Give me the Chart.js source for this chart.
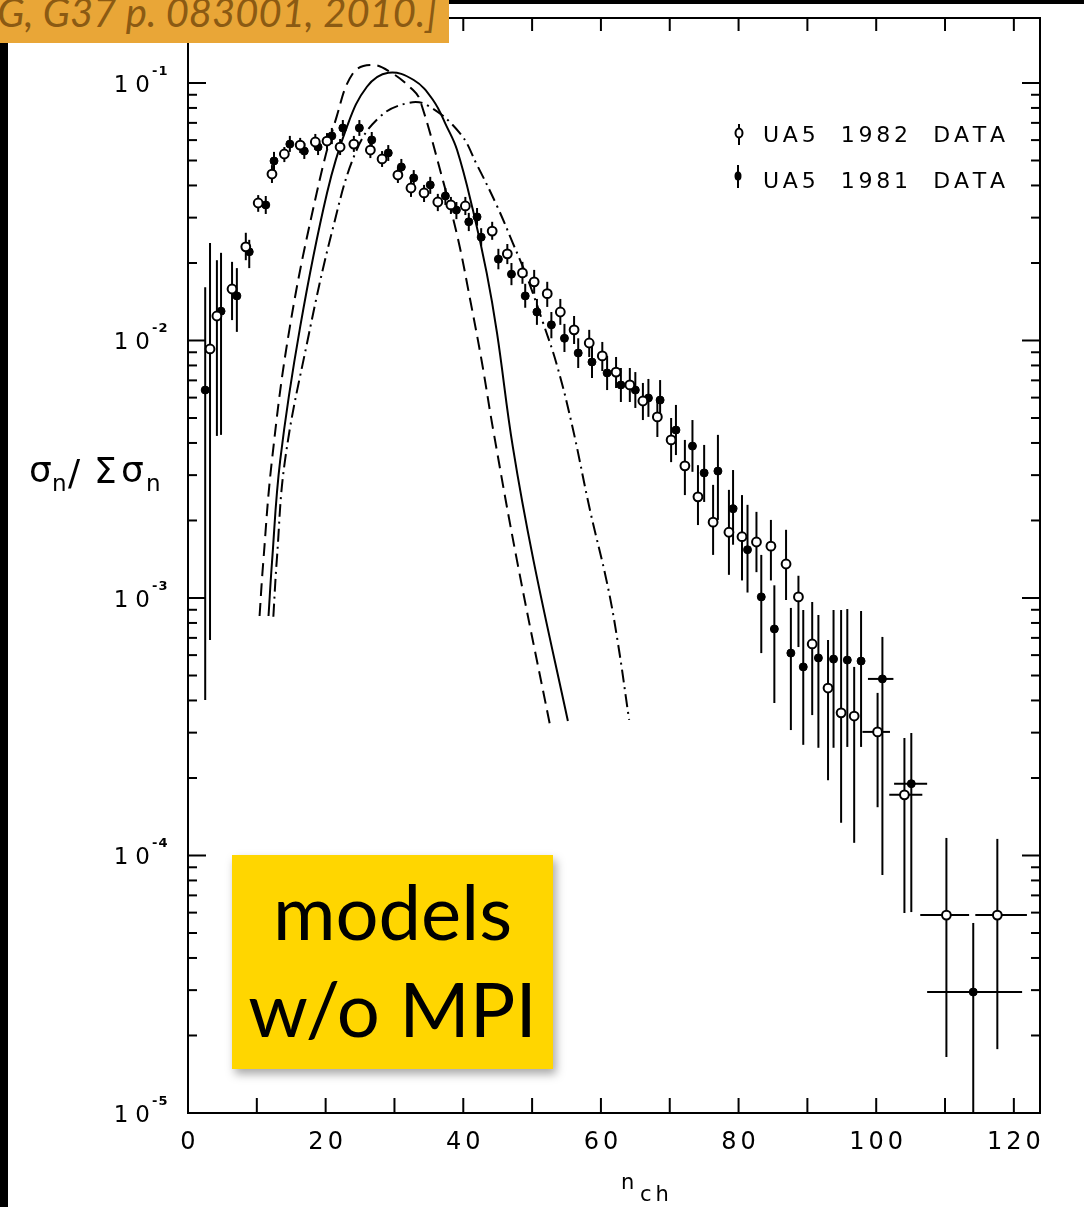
<!DOCTYPE html>
<html>
<head>
<meta charset="utf-8">
<script src="https://cdn.jsdelivr.net/npm/chart.js@4.4.0/dist/chart.umd.min.js"></script>
<style>
  html, body { margin: 0; padding: 0; background: #fff; }
  #wrap { position: relative; width: 1084px; height: 1207px; overflow: hidden; background: #fff; }
  #chart { position: absolute; left: 0; top: 0; }
  .ref { position: absolute; left: 0; top: 0; width: 449px; height: 43px; background: #E9A637; overflow: hidden; }
  .ref span { position: absolute; right: 12px; top: -12px; font: italic 40px Lato, sans-serif; line-height: normal; color: #8B5A13; white-space: nowrap; }
  .topbar { position: absolute; left: 449px; top: 0; width: 635px; height: 4px; background: #000; }
  .leftbar { position: absolute; left: 0; top: 43px; width: 8px; height: 1164px; background: #000; }
  .note { position: absolute; left: 232px; top: 855px; width: 321px; height: 214px; box-sizing: border-box;
          padding-top: 7px; background: #FFD600; box-shadow: 3px 5px 9px rgba(0,0,0,0.35);
          font: 76px Lato, sans-serif; line-height: 97px; text-align: center; color: #000; }
</style>
</head>
<body>
<div id="wrap">
  <canvas id="chart" width="1084" height="1207"></canvas>
  <div class="topbar"></div>
  <div class="leftbar"></div>
  <div class="ref"><span>G, G37 p. 083001, 2010.]</span></div>
  <div class="note">models<br>w/o MPI</div>
</div>
<script>
// UA5 1982 data (open circles)
const openN   = [3.2, 4.2, 6.4, 8.4, 10.2, 12.2, 14.0, 16.3, 18.5, 20.2, 22.1, 24.1, 26.5, 28.2, 30.5, 32.4, 34.3, 36.3, 38.2, 40.3, 44.2, 46.4, 48.6, 50.3, 52.2, 54.1, 56.1, 58.3, 60.2, 62.2, 64.2, 66.1, 68.2, 70.2, 72.2, 74.1, 76.3, 78.6, 80.5, 82.6, 84.7, 86.9, 88.7, 90.7, 93.0, 94.9, 96.8];
const openVal = [9.27e-3, 1.245e-2, 1.585e-2, 2.31e-2, 3.42e-2, 4.43e-2, 5.30e-2, 5.74e-2, 5.90e-2, 5.95e-2, 5.64e-2, 5.79e-2, 5.49e-2, 5.07e-2, 4.39e-2, 3.91e-2, 3.74e-2, 3.45e-2, 3.36e-2, 3.33e-2, 2.66e-2, 2.17e-2, 1.83e-2, 1.69e-2, 1.52e-2, 1.29e-2, 1.10e-2, 9.78e-3, 8.71e-3, 7.54e-3, 6.72e-3, 5.82e-3, 5.05e-3, 4.11e-3, 3.26e-3, 2.47e-3, 1.97e-3, 1.80e-3, 1.73e-3, 1.65e-3, 1.59e-3, 1.355e-3, 1.01e-3, 6.63e-4, 4.47e-4, 3.58e-4, 3.48e-4];
const openHi  = [2.39e-2, 2.05e-2, 2.02e-2, 2.62e-2, 3.67e-2, 4.80e-2, 5.64e-2, 6.12e-2, 6.34e-2, 6.39e-2, 6.06e-2, 6.23e-2, 5.90e-2, 5.44e-2, 4.72e-2, 4.20e-2, 4.02e-2, 3.71e-2, 3.61e-2, 3.61e-2, 2.89e-2, 2.37e-2, 2.02e-2, 1.88e-2, 1.69e-2, 1.45e-2, 1.245e-2, 1.10e-2, 9.87e-3, 8.63e-3, 7.82e-3, 6.84e-3, 5.98e-3, 5.00e-3, 4.11e-3, 3.28e-3, 2.75e-3, 2.63e-3, 2.51e-3, 2.16e-3, 2.01e-3, 1.84e-3, 1.22e-3, 9.65e-4, 6.87e-4, 8.98e-4, 5.40e-4];
const openLo  = [6.87e-4, 4.26e-3, 1.20e-2, 2.05e-2, 3.16e-2, 4.09e-2, 4.93e-2, 5.35e-2, 5.49e-2, 5.54e-2, 5.25e-2, 5.40e-2, 5.11e-2, 4.72e-2, 4.09e-2, 3.61e-2, 3.45e-2, 3.18e-2, 3.10e-2, 3.07e-2, 2.46e-2, 1.98e-2, 1.66e-2, 1.52e-2, 1.35e-2, 1.15e-2, 9.69e-3, 8.63e-3, 7.61e-3, 6.54e-3, 5.77e-3, 4.91e-3, 4.22e-3, 3.37e-3, 2.51e-3, 1.92e-3, 1.47e-3, 1.23e-3, 1.17e-3, 1.26e-3, 1.17e-3, 9.82e-4, 6.45e-4, 3.51e-4, 1.96e-4, 1.34e-4, 1.12e-4];
// 1982 wide bins at high multiplicity
const openWideN    = [100.2, 104.1, 110.2, 117.6];
const openWideVal  = [3.02e-4, 1.72e-4, 5.87e-5, 5.87e-5];
const openWideHi   = [4.28e-4, 2.86e-4, 1.17e-4, 1.16e-4];
const openWideLo   = [1.54e-4, 5.98e-5, 1.65e-5, 1.77e-5];
const openWideFrom = [98.0, 101.9, 106.4, 114.4];
const openWideTo   = [102.0, 106.7, 113.5, 121.9];

// UA5 1981 data (filled circles)
const filledN   = [2.5, 4.8, 7.1, 8.9, 11.3, 12.5, 14.8, 16.9, 18.9, 20.9, 22.5, 24.9, 26.7, 29.1, 31.0, 32.8, 35.2, 37.4, 39.0, 40.8, 42.0, 42.6, 45.1, 47.0, 49.0, 50.7, 52.8, 54.7, 56.7, 58.7, 60.9, 62.9, 65.0, 66.9, 68.6, 70.9, 73.3, 75.0, 77.0, 79.2, 81.3, 83.3, 85.2, 87.6, 89.4, 91.6, 93.8, 95.8, 97.8];
const filledVal = [6.42e-3, 1.30e-2, 1.49e-2, 2.21e-2, 3.36e-2, 4.98e-2, 5.79e-2, 5.44e-2, 5.64e-2, 6.23e-2, 6.69e-2, 6.69e-2, 6.01e-2, 5.35e-2, 4.72e-2, 4.28e-2, 4.02e-2, 3.64e-2, 3.21e-2, 2.89e-2, 3.02e-2, 2.52e-2, 2.07e-2, 1.81e-2, 1.49e-2, 1.29e-2, 1.15e-2, 1.02e-2, 8.94e-3, 8.25e-3, 7.48e-3, 6.72e-3, 6.42e-3, 5.98e-3, 5.87e-3, 4.49e-3, 3.89e-3, 3.06e-3, 3.11e-3, 2.22e-3, 1.54e-3, 1.01e-3, 7.58e-4, 6.11e-4, 5.40e-4, 5.85e-4, 5.79e-4, 5.74e-4, 5.69e-4];
const filledHi  = [1.61e-2, 2.19e-2, 1.91e-2, 2.46e-2, 3.64e-2, 5.40e-2, 6.23e-2, 5.85e-2, 6.06e-2, 6.69e-2, 7.18e-2, 7.18e-2, 6.45e-2, 5.74e-2, 5.07e-2, 4.59e-2, 4.32e-2, 3.91e-2, 3.45e-2, 3.13e-2, 3.27e-2, 2.73e-2, 2.27e-2, 2.00e-2, 1.66e-2, 1.45e-2, 1.29e-2, 1.16e-2, 1.02e-2, 9.52e-3, 8.71e-3, 7.82e-3, 7.54e-3, 7.09e-3, 7.02e-3, 5.62e-3, 4.91e-3, 3.93e-3, 4.30e-3, 3.14e-3, 2.30e-3, 1.47e-3, 1.12e-3, 9.15e-4, 8.98e-4, 8.59e-4, 8.98e-4, 9.06e-4, 8.90e-4];
const filledLo  = [4.02e-4, 4.30e-3, 1.08e-2, 1.91e-2, 3.10e-2, 4.59e-2, 5.40e-2, 5.07e-2, 5.25e-2, 5.79e-2, 6.23e-2, 6.23e-2, 5.59e-2, 4.98e-2, 4.39e-2, 3.95e-2, 3.71e-2, 3.36e-2, 2.96e-2, 2.66e-2, 2.79e-2, 2.33e-2, 1.89e-2, 1.64e-2, 1.34e-2, 1.15e-2, 1.02e-2, 9.02e-3, 7.82e-3, 7.15e-3, 6.42e-3, 5.77e-3, 5.47e-3, 5.05e-3, 4.91e-3, 3.59e-3, 3.09e-3, 2.36e-3, 2.01e-3, 1.61e-3, 1.05e-3, 6.11e-4, 3.91e-4, 3.07e-4, 2.69e-4, 2.62e-4, 2.62e-4, 2.64e-4, 2.64e-4];
const filledWideN    = [100.9, 105.1, 114.1];
const filledWideVal  = [4.85e-4, 1.90e-4, 2.95e-5];
const filledWideHi   = [7.06e-4, 2.99e-4, 5.47e-5];
const filledWideLo   = [8.40e-5, 6.03e-5, 8e-6];
const filledWideFrom = [98.8, 102.6, 107.4];
const filledWideTo   = [102.5, 107.4, 121.2];

// model curves (no MPI)
const dashedN   = [10.4, 10.9, 12.2, 14.8, 18.7, 21.6, 24.0, 26.7, 29.4, 32.7, 33.7, 37.1, 39.2, 41.0, 42.7, 44.3, 47.8, 52.6];
const dashedVal = [8.51e-4, 1.34e-3, 3.43e-3, 1.13e-2, 3.74e-2, 7.40e-2, 0.1094, 0.1175, 0.1103, 9.39e-2, 8.59e-2, 4.13e-2, 2.50e-2, 1.44e-2, 8.25e-3, 4.57e-3, 1.40e-3, 3.21e-4];
const solidN    = [11.7, 12.2, 13.4, 16.3, 20.2, 23.1, 26.0, 29.1, 32.8, 35.6, 37.6, 39.1, 41.4, 43.4, 44.9, 47.2, 50.2, 55.2];
const solidVal  = [8.51e-4, 1.37e-3, 3.43e-3, 1.13e-2, 3.74e-2, 6.77e-2, 9.67e-2, 0.1096, 0.1027, 8.59e-2, 6.77e-2, 5.49e-2, 3.21e-2, 1.83e-2, 1.07e-2, 3.86e-3, 1.40e-3, 3.33e-4];
const dashDotN   = [12.4, 12.9, 14.1, 17.3, 21.1, 24.5, 27.9, 31.8, 34.7, 39.5, 42.0, 44.9, 47.2, 49.3, 51.6, 53.6, 55.8, 58.4, 60.9, 62.4, 64.1];
const dashDotVal = [8.46e-4, 1.40e-3, 3.43e-3, 9.78e-3, 2.76e-2, 5.49e-2, 7.40e-2, 8.34e-2, 8.21e-2, 6.39e-2, 4.80e-2, 3.33e-2, 2.39e-2, 1.75e-2, 1.17e-2, 8.03e-3, 4.70e-3, 2.20e-3, 1.14e-3, 6.87e-4, 3.36e-4];

// axes
const xMin = 0, xMax = 123.8;
const yMin = 1e-5, yMax = 0.1788;
const xTickValues = [0, 10, 20, 30, 40, 50, 60, 70, 80, 90, 100, 110, 120];
const xLabelValues = [0, 20, 40, 60, 80, 100, 120];
const yDecades = [-5, -4, -3, -2, -1];
const legendLabels = ['UA5  1982  DATA', 'UA5  1981  DATA'];

const pts = (ns, vs) => ns.map((n, i) => ({ x: n, y: vs[i] }));

// draws text glyph by glyph with extra spacing
function spaced(ctx, str, x, yb, spacing, align) {
  const ws = [...str].map(c => ctx.measureText(c).width);
  const total = ws.reduce((a, b) => a + b, 0) + spacing * (ws.length - 1);
  let cx = align === 'center' ? x - total / 2 : align === 'right' ? x - total : x;
  ctx.textAlign = 'left';
  [...str].forEach((c, i) => { ctx.fillText(c, cx, yb); cx += ws[i] + spacing; });
  return total;
}
function fitSpacing(ctx, str, width) {
  const chars = [...str];
  const w = chars.reduce((a, c) => a + ctx.measureText(c).width, 0);
  return (width - w) / (chars.length - 1);
}

const errorBars = {
  id: 'errorBars',
  beforeDatasetsDraw(chart) {
    const { ctx, chartArea: a, scales: { x, y } } = chart;
    ctx.save();
    ctx.beginPath();
    ctx.rect(a.left, a.top, a.right - a.left, a.bottom - a.top);
    ctx.clip();
    ctx.strokeStyle = '#000';
    ctx.lineWidth = 2;
    const vbars = (ns, lo, hi) => ns.forEach((n, i) => {
      const px = x.getPixelForValue(n);
      ctx.beginPath();
      ctx.moveTo(px, y.getPixelForValue(hi[i]));
      ctx.lineTo(px, y.getPixelForValue(lo[i]));
      ctx.stroke();
    });
    const hbars = (ns, vs, from, to) => ns.forEach((n, i) => {
      const py = y.getPixelForValue(vs[i]);
      ctx.beginPath();
      ctx.moveTo(x.getPixelForValue(from[i]), py);
      ctx.lineTo(x.getPixelForValue(to[i]), py);
      ctx.stroke();
    });
    vbars(openN, openLo, openHi);
    vbars(filledN, filledLo, filledHi);
    vbars(openWideN, openWideLo, openWideHi);
    vbars(filledWideN, filledWideLo, filledWideHi);
    hbars(openWideN, openWideVal, openWideFrom, openWideTo);
    hbars(filledWideN, filledWideVal, filledWideFrom, filledWideTo);
    ctx.restore();
  }
};

const frame = {
  id: 'frame',
  afterDraw(chart) {
    const { ctx, chartArea: a, scales: { x, y } } = chart;
    ctx.save();
    ctx.strokeStyle = '#000';
    ctx.fillStyle = '#000';
    ctx.lineWidth = 2;
    ctx.strokeRect(a.left, a.top, a.right - a.left, a.bottom - a.top);
    const seg = (x1, y1, x2, y2) => { ctx.beginPath(); ctx.moveTo(x1, y1); ctx.lineTo(x2, y2); ctx.stroke(); };

    xTickValues.forEach(v => {
      const px = x.getPixelForValue(v);
      seg(px, a.bottom, px, a.bottom - 15);
      seg(px, a.top, px, a.top + 13);
    });
    yDecades.forEach(e => {
      for (let m = 1; m <= 9; m++) {
        const v = m * Math.pow(10, e);
        if (v > yMax * 1.0001) continue;
        const py = y.getPixelForValue(v);
        const len = m === 1 ? 18 : 9;
        seg(a.left, py, a.left + len, py);
        seg(a.right, py, a.right - len, py);
      }
    });

    // x tick labels
    ctx.font = '24px "DejaVu Sans"';
    xLabelValues.forEach(v => spaced(ctx, String(v), x.getPixelForValue(v), a.bottom + 36, 4, 'center'));

    // y tick labels 10^e
    yDecades.forEach(e => {
      const py = y.getPixelForValue(Math.pow(10, e));
      ctx.font = '23px "DejaVu Sans"';
      spaced(ctx, '10', 150, py + 9, 7, 'right');
      ctx.font = 'bold 13px "DejaVu Sans"';
      spaced(ctx, '-' + Math.abs(e), 152, py - 8, 1, 'left');
    });

    // axis titles
    ctx.textAlign = 'left';
    ctx.font = '36px "DejaVu Sans"';
    ctx.fillText('σ', 29, 482);
    ctx.fillText('/', 68, 485);
    ctx.fillText('Σ', 94, 483);
    ctx.fillText('σ', 121, 482);
    ctx.font = '23px "DejaVu Sans"';
    ctx.fillText('n', 52, 491);
    ctx.fillText('n', 146, 491);

    ctx.font = '21px "DejaVu Sans"';
    ctx.fillText('n', 621, 1189);
    spaced(ctx, 'ch', 640, 1201, 4, 'left');

    // legend
    const lx = 739;
    ctx.lineWidth = 2;
    seg(lx, 124, lx, 145);
    ctx.beginPath(); ctx.ellipse(lx, 133, 3.5, 4.5, 0, 0, Math.PI * 2);
    ctx.fillStyle = '#fff'; ctx.fill(); ctx.stroke();
    ctx.fillStyle = '#000';
    seg(lx - 1, 165, lx - 1, 188);
    ctx.beginPath(); ctx.ellipse(lx - 1, 176, 3.5, 4.5, 0, 0, Math.PI * 2); ctx.fill();
    ctx.font = '22px "DejaVu Sans"';
    legendLabels.forEach((t, i) => {
      const sp = fitSpacing(ctx, t, 242);
      spaced(ctx, t, 763, i === 0 ? 142 : 188, sp, 'left');
    });
    ctx.restore();
  }
};

const curveStyle = { type: 'line', borderColor: '#000', borderWidth: 2, pointRadius: 0, fill: false,
                     tension: 0.4, order: 2 };

new Chart(document.getElementById('chart'), {
  type: 'scatter',
  data: {
    datasets: [
      { ...curveStyle, label: 'dashed', data: pts(dashedN, dashedVal), borderDash: [13, 7] },
      { ...curveStyle, label: 'solid', data: pts(solidN, solidVal) },
      { ...curveStyle, label: 'dash-dot', data: pts(dashDotN, dashDotVal), borderDash: [13, 5, 2, 5] },
      { label: 'UA5 1981 DATA', data: pts(filledN.concat(filledWideN), filledVal.concat(filledWideVal)),
        pointRadius: 4, backgroundColor: '#000', borderColor: '#000', borderWidth: 1, order: 1 },
      { label: 'UA5 1982 DATA', data: pts(openN.concat(openWideN), openVal.concat(openWideVal)),
        pointRadius: 4.4, backgroundColor: '#fff', borderColor: '#000', borderWidth: 2, order: 0 }
    ]
  },
  options: {
    responsive: false,
    animation: false,
    devicePixelRatio: 1,
    layout: { padding: { left: 188, right: 44, top: 18, bottom: 94 } },
    scales: {
      x: { type: 'linear', min: xMin, max: xMax, display: false },
      y: { type: 'logarithmic', min: yMin, max: yMax, display: false }
    },
    plugins: { legend: { display: false }, tooltip: { enabled: false } }
  },
  plugins: [errorBars, frame]
});
</script>
</body>
</html>
